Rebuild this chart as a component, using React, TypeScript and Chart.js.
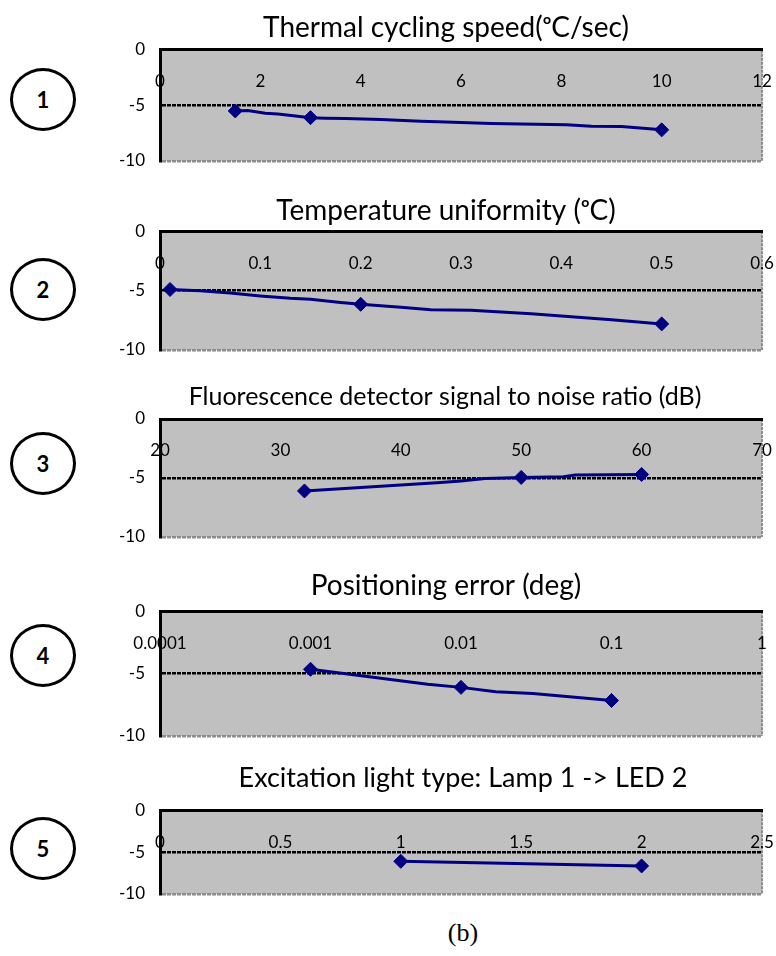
import React, { useEffect, useRef } from "react";
import { Chart, registerables } from "chart.js";
Chart.register(...registerables);

// ---------- data ----------
const titles = [
  "Thermal cycling speed(ᵒC/sec)",
  "Temperature uniformity (ᵒC)",
  "Fluorescence detector signal to noise ratio (dB)",
  "Positioning error (deg)",
  "Excitation light type: Lamp 1 -> LED 2",
];
const circleLabels = ["1", "2", "3", "4", "5"];
const caption = "(b)";
const yTicks = [0, -5, -10];

const speedTicks = [0, 2, 4, 6, 8, 10, 12];
const speedX = [1.5, 1.75, 2.1, 2.35, 2.7, 3, 3.3, 3.7, 4.4, 5.2, 5.7, 6.6, 8.1, 8.6, 9.2, 10];
const speedY = [-5.5, -5.45, -5.7, -5.77, -5.95, -6.1, -6.15, -6.18, -6.27, -6.42, -6.5, -6.62, -6.75, -6.88, -6.9, -7.2];
const speedMarkers = [1.5, 3, 10];

const unifTicks = [0, 0.1, 0.2, 0.3, 0.4, 0.5, 0.6];
const unifX = [0.01, 0.04, 0.07, 0.1, 0.13, 0.15, 0.18, 0.2, 0.24, 0.27, 0.31, 0.37, 0.41, 0.45, 0.5];
const unifY = [-4.9, -5.0, -5.2, -5.45, -5.65, -5.72, -6.0, -6.15, -6.4, -6.6, -6.65, -6.95, -7.2, -7.45, -7.8];
const unifMarkers = [0.01, 0.2, 0.5];

const snrTicks = [20, 30, 40, 50, 60, 70];
const snrX = [32, 36, 40, 43, 45, 47, 50, 53.5, 54.5, 60];
const snrY = [-6.1, -5.85, -5.6, -5.4, -5.25, -5.05, -4.95, -4.9, -4.75, -4.7];
const snrMarkers = [32, 50, 60];

const posTicks = [0.0001, 0.001, 0.01, 0.1, 1];
const posX = [0.001, 0.006, 0.01, 0.017, 0.03, 0.1];
const posY = [-4.65, -5.85, -6.1, -6.45, -6.6, -7.15];
const posMarkers = [0.001, 0.01, 0.1];

const lightTicks = [0, 0.5, 1, 1.5, 2, 2.5];
const lightX = [1, 2];
const lightY = [-6.1, -6.65];
const lightMarkers = [1, 2];

// ---------- layout ----------
const CANVAS_LEFT = 116;
const CANVAS_W = 660;
const Y_AXIS_W = 44;
const PAD_RIGHT = 14;
const PAD_BOTTOM = 14;
const TICK_FONT = 17;

type Panel = {
  title: string;
  titleSize: number;
  titleY: number;
  titleX: number;
  top: number;
  bottom: number;
  log: boolean;
  ticks: number[];
  xs: number[];
  ys: number[];
  markers: number[];
  circleY: number;
  circle: string;
};

const panels: Panel[] = [
  { title: titles[0], titleSize: 28, titleY: 28, titleX: 446, top: 50, bottom: 161, log: false, ticks: speedTicks, xs: speedX, ys: speedY, markers: speedMarkers, circleY: 99, circle: circleLabels[0] },
  { title: titles[1], titleSize: 28, titleY: 211, titleX: 446, top: 231.5, bottom: 350.5, log: false, ticks: unifTicks, xs: unifX, ys: unifY, markers: unifMarkers, circleY: 289, circle: circleLabels[1] },
  { title: titles[2], titleSize: 25, titleY: 397, titleX: 445, top: 419, bottom: 536.5, log: false, ticks: snrTicks, xs: snrX, ys: snrY, markers: snrMarkers, circleY: 463, circle: circleLabels[2] },
  { title: titles[3], titleSize: 28, titleY: 586, titleX: 446, top: 611.5, bottom: 736, log: true, ticks: posTicks, xs: posX, ys: posY, markers: posMarkers, circleY: 655, circle: circleLabels[3] },
  { title: titles[4], titleSize: 27, titleY: 778, titleX: 463, top: 810, bottom: 894, log: false, ticks: lightTicks, xs: lightX, ys: lightY, markers: lightMarkers, circleY: 848, circle: circleLabels[4] },
];

const framePlugin = {
  id: "frame",
  beforeDraw(chart: any) {
    const { ctx, chartArea } = chart;
    const { left, top, right, bottom } = chartArea;
    ctx.save();
    ctx.fillStyle = "#c0c0c0";
    ctx.fillRect(left, top, right - left, bottom - top);
    ctx.strokeStyle = "#8c8c8c";
    ctx.lineWidth = 2;
    ctx.setLineDash([3, 1]);
    ctx.beginPath();
    ctx.moveTo(right, top);
    ctx.lineTo(right, bottom);
    ctx.stroke();
    ctx.restore();
  },
};

function PanelChart({ p }: { p: Panel }) {
  const ref = useRef<HTMLCanvasElement | null>(null);
  const lh = p.titleSize * 1.2;
  const canvasTop = p.titleY - lh / 2;
  const titlePadBottom = p.top - p.titleY - lh / 2;
  const canvasH = Math.round(p.bottom + PAD_BOTTOM - canvasTop);

  useEffect(() => {
    if (!ref.current) return;
    const data = p.xs.map((x, i) => ({ x, y: p.ys[i] }));
    const titleCenterPlugin = {
      id: "titleCenter",
      afterLayout(chart: any) {
        const t = chart.titleBlock;
        if (!t) return;
        const w = chart.width;
        const cx = p.titleX - CANVAS_LEFT;
        t.left = cx - w / 2;
        t.right = cx + w / 2;
      },
    };
    const chart = new Chart(ref.current, {
      type: "line",
      data: {
        datasets: [
          {
            data,
            borderColor: "#000080",
            backgroundColor: "#000080",
            borderWidth: 3,
            tension: 0,
            pointStyle: "rectRot",
            pointRadius: (ctx: any) => (p.markers.includes(p.xs[ctx.dataIndex]) ? 7 : 0),
            pointHoverRadius: 0,
            pointBackgroundColor: "#000080",
            pointBorderColor: "#000080",
            pointBorderWidth: 1,
            clip: false as any,
          },
        ],
      },
      options: {
        responsive: false,
        devicePixelRatio: 1,
        animation: false,
        events: [],
        layout: { padding: { top: 0, right: PAD_RIGHT, bottom: PAD_BOTTOM, left: 0 } },
        plugins: {
          legend: { display: false },
          tooltip: { enabled: false },
          title: {
            display: true,
            text: p.title,
            color: "#000",
            font: { family: "Lato", size: p.titleSize, weight: "normal", lineHeight: 1.2 },
            padding: { top: 0, bottom: titlePadBottom },
          },
        },
        scales: {
          x: {
            type: p.log ? "logarithmic" : "linear",
            position: { y: 0 } as any,
            min: p.ticks[0],
            max: p.ticks[p.ticks.length - 1],
            afterBuildTicks: (scale: any) => {
              scale.ticks = p.ticks.map((v) => ({ value: v }));
            },
            afterFit: (scale: any) => {
              scale.paddingLeft = 0;
              scale.paddingRight = 0;
              scale.paddingTop = 0;
              scale.paddingBottom = 0;
            },
            grid: { display: false, drawTicks: false },
            border: { display: true, color: "#000", width: 3 },
            ticks: {
              color: "#000",
              font: { family: "Lato", size: TICK_FONT },
              padding: 32 - (TICK_FONT * 1.2) / 2,
              maxRotation: 0,
              autoSkip: false,
              callback: (_v: any, i: number) => String(p.ticks[i]),
            },
          },
          y: {
            type: "linear",
            position: "left",
            min: -10,
            max: 0,
            afterBuildTicks: (scale: any) => {
              scale.ticks = yTicks.map((v) => ({ value: v }));
            },
            afterFit: (scale: any) => {
              scale.width = Y_AXIS_W;
              scale.paddingTop = 0;
              scale.paddingBottom = 0;
            },
            grid: {
              display: true,
              drawTicks: false,
              lineWidth: 2.5,
              color: (ctx: any) => {
                const v = ctx.tick ? ctx.tick.value : null;
                if (v === -5) return "#000";
                if (v === -10) return "#8c8c8c";
                return "rgba(0,0,0,0)";
              },
            },
            border: { display: true, color: "#000", width: 3, dash: [4, 1] },
            ticks: {
              color: "#000",
              font: { family: "Lato", size: TICK_FONT },
              padding: 15,
              callback: (v: any) => String(v),
            },
          },
        },
      } as any,
      plugins: [framePlugin, titleCenterPlugin],
    });
    return () => chart.destroy();
  }, [p]);

  return (
    <canvas
      ref={ref}
      width={CANVAS_W}
      height={canvasH}
      style={{ position: "absolute", left: CANVAS_LEFT, top: canvasTop, width: CANVAS_W, height: canvasH }}
    />
  );
}

export default function App() {
  return (
    <div style={{ position: "absolute", left: 0, top: 0, width: 776, height: 956, background: "#fff", overflow: "hidden" }}>
      {panels.map((p, i) => (
        <React.Fragment key={i}>
          <PanelChart p={p} />
          <div
            style={{
              position: "absolute",
              left: 43 - 33,
              top: p.circleY - 31.5,
              width: 60,
              height: 57,
              border: "3px solid #000",
              borderRadius: "50%",
              display: "flex",
              alignItems: "center",
              justifyContent: "center",
              fontFamily: "Lato",
              fontWeight: 700,
              fontSize: 22,
              color: "#000",
            }}
          >
            {p.circle}
          </div>
        </React.Fragment>
      ))}
      <div
        style={{
          position: "absolute",
          left: 363,
          width: 200,
          top: 918,
          lineHeight: "30px",
          textAlign: "center",
          fontFamily: "'Liberation Serif', serif",
          fontSize: 26,
          color: "#000",
        }}
      >
        {caption}
      </div>
    </div>
  );
}
